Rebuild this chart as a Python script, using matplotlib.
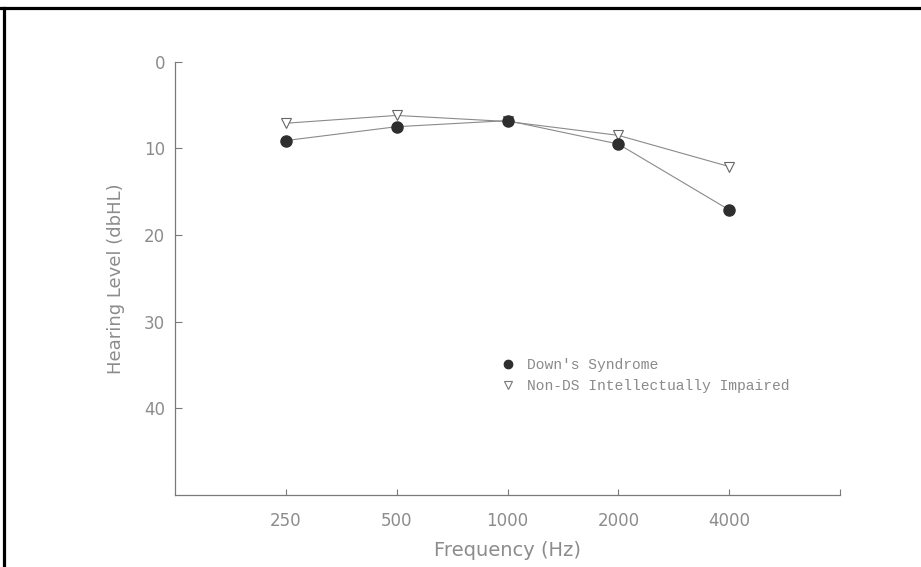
import numpy as np
import matplotlib
matplotlib.use('Agg')
import matplotlib.pyplot as plt
from matplotlib.lines import Line2D

# audiogram means, hearing level in dBHL
frequencies = ['250', '500', '1000', '2000', '4000']
downs = [9.1, 7.5, 6.8, 9.5, 17.1]
non_ds = [7.1, 6.2, 6.9, 8.5, 12.1]
series_labels = ["Down's Syndrome", "Non-DS Intellectually Impaired"]
yticks = [0, 10, 20, 30, 40]

text_grey = '#8c8c8c'
axis_grey = '#7a7a7a'
line_grey = '#8a8a8a'
mark_dark = '#2e2e2e'

fig = plt.figure(figsize=(9.21, 5.67), dpi=100, facecolor='w')
ax = fig.add_axes([175 / 921, 1 - 495 / 567, 665 / 921, 433.3 / 567])

x = np.arange(1, len(frequencies) + 1)
ax.plot(x, non_ds, color=line_grey, lw=0.8, marker='v', markersize=7,
        markerfacecolor='w', markeredgecolor='#666666', markeredgewidth=0.8)
ax.plot(x, downs, color=line_grey, lw=0.8, marker='o', markersize=8,
        markerfacecolor=mark_dark, markeredgecolor=mark_dark)

ax.set_xlim(0, len(frequencies) + 1)
ax.set_ylim(50, 0)

ax.set_xticks(list(x) + [len(frequencies) + 1])
ax.set_xticklabels(frequencies + [''])
ax.set_yticks(yticks)
ax.set_yticklabels([str(v) for v in yticks])

for side in ['top', 'right']:
    ax.spines[side].set_visible(False)
for side in ['left', 'bottom']:
    ax.spines[side].set_color(axis_grey)
    ax.spines[side].set_linewidth(0.9)

ax.tick_params(axis='y', direction='in', length=5, width=0.8, color=axis_grey,
               labelcolor=text_grey, labelsize=12, pad=7)
ax.tick_params(axis='x', direction='in', length=4, width=0.8, color=axis_grey,
               labelcolor=text_grey, labelsize=12, pad=12)

ax.set_xlabel('Frequency (Hz)', color=text_grey, fontsize=14, labelpad=8)
ax.set_ylabel('Hearing Level (dbHL)', color=text_grey, fontsize=13, labelpad=14)

handles = [
    Line2D([], [], ls='none', marker='o', markersize=6,
           markerfacecolor=mark_dark, markeredgecolor=mark_dark),
    Line2D([], [], ls='none', marker='v', markersize=6,
           markerfacecolor='w', markeredgecolor='#777777', markeredgewidth=0.8),
]
leg = ax.legend(handles, series_labels, loc='center left',
                bbox_to_anchor=(0.49, 0.275), frameon=False, borderpad=0,
                borderaxespad=0, handlelength=1.0, handletextpad=0.8,
                labelspacing=0.5, prop={'family': 'Liberation Mono', 'size': 10.5})
for t in leg.get_texts():
    t.set_color('#8a8a8a')

# black frame along the top and left edges
fig.add_artist(Line2D([0, 1], [1 - 8 / 567, 1 - 8 / 567], transform=fig.transFigure,
                      color='k', lw=2.3))
fig.add_artist(Line2D([3.5 / 921, 3.5 / 921], [0, 1 - 8 / 567], transform=fig.transFigure,
                      color='k', lw=2.3))

fig.savefig('out.png', dpi=100, facecolor='w')
